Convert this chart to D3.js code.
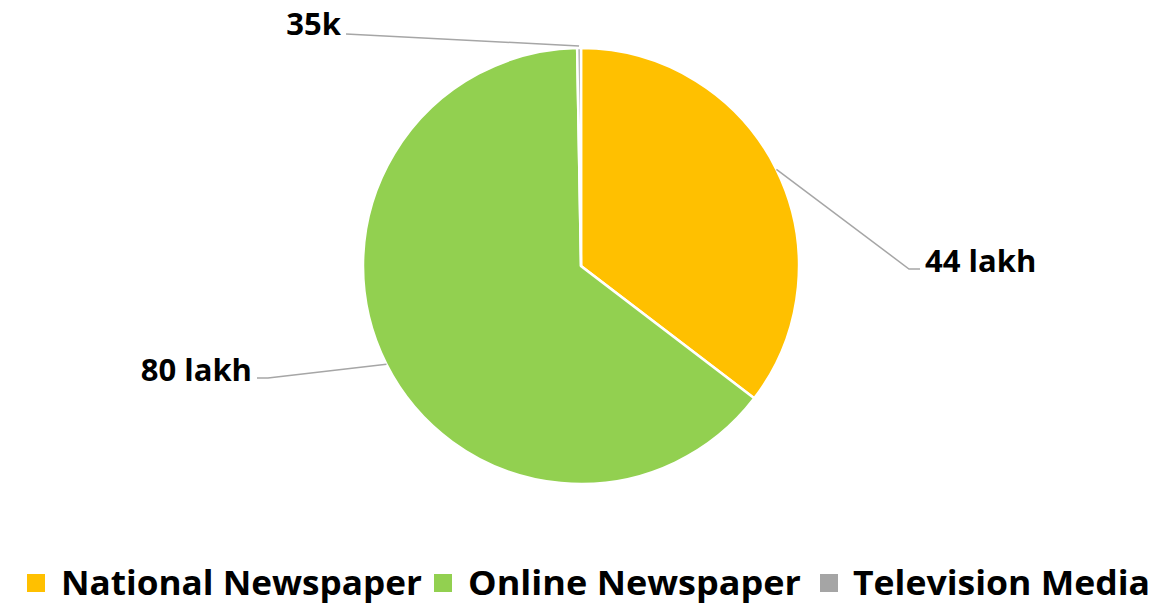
<!DOCTYPE html>
<html>
<head>
<meta charset="utf-8">
<script src="https://cdn.jsdelivr.net/npm/d3@7"></script>
<style>
  body { margin: 0; background: #fff; }
  text { font-family: "Open Sans", sans-serif; font-weight: bold; fill: #000; }
</style>
</head>
<body>
<svg id="main-svg" width="1176" height="604"></svg>
<script>
const categories = ["National Newspaper", "Online Newspaper", "Television Media"];
const values = [4400000, 8000000, 35000];
const labels = ["44 lakh", "80 lakh", "35k"];
const colors = ["#FFC000", "#92D050", "#A5A5A5"];

const cx = 581, cy = 266, radius = 218;

// where each data label sits (text anchor point) and which side the line joins
const labelSpots = [
  {x: 925, y: 271, anchor: "start", elbow: 909},
  {x: 252, y: 380, anchor: "end", elbow: 268},
  {x: 341, y: 34, anchor: "end", elbow: null}
];

const svg = d3.select("#main-svg");
const g = svg.append("g").attr("transform", `translate(${cx},${cy})`);

const pie = d3.pie().sort(null).value(d => d);
const arcs = pie(values);
const arc = d3.arc().innerRadius(0).outerRadius(radius);

g.selectAll("path.slice")
  .data(arcs)
  .enter().append("path")
  .attr("class", "slice")
  .attr("d", arc)
  .attr("fill", (d, i) => colors[i])
  .attr("stroke", "#fff")
  .attr("stroke-width", 2.5);

// leader lines + labels
arcs.forEach((d, i) => {
  const mid = (d.startAngle + d.endAngle) / 2;
  const px = cx + radius * Math.sin(mid);
  const py = cy - radius * Math.cos(mid);
  const s = labelSpots[i];
  const pad = s.anchor === "start" ? -5 : 5;
  let pts;
  if (s.elbow !== null) {
    pts = [[px, py], [s.elbow, s.y - 2], [s.x + pad, s.y - 2]];
  } else {
    pts = [[px, py - 2], [s.x + pad, s.y]];
  }
  svg.append("path")
    .attr("d", d3.line()(pts))
    .attr("fill", "none")
    .attr("stroke", "#A6A6A6")
    .attr("stroke-width", 1.5);
  svg.append("text")
    .attr("x", s.x)
    .attr("y", s.y + 1)
    .attr("text-anchor", s.anchor)
    .style("font-size", "31px")
    .text(labels[i]);
});

// legend
const legendItems = [
  {sq: 27, tx: 61, w: 361},
  {sq: 434, tx: 468, w: 333},
  {sq: 820, tx: 853, w: 297}
];
const legend = svg.append("g");
categories.forEach((c, i) => {
  const it = legendItems[i];
  legend.append("rect")
    .attr("x", it.sq).attr("y", 574)
    .attr("width", 18).attr("height", 18)
    .attr("fill", colors[i]);
  legend.append("text")
    .attr("x", it.tx).attr("y", 595)
    .attr("textLength", it.w)
    .attr("lengthAdjust", "spacingAndGlyphs")
    .style("font-size", "34px")
    .text(c);
});
</script>
</body>
</html>
